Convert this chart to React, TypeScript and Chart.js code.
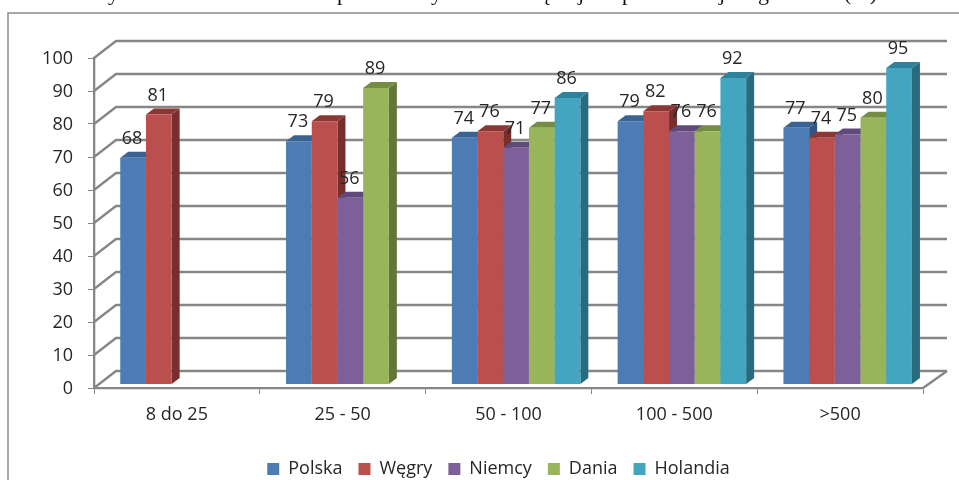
import React, { useEffect, useRef } from "react";
import { Chart, registerables } from "chart.js";

Chart.register(...registerables);

const categories = ["8 do 25", "25 - 50", "50 - 100", "100 - 500", ">500"];
const polska = [68, 73, 74, 79, 77];
const wegry = [81, 79, 76, 82, 74];
const niemcy = [null, 56, 71, 76, 75];
const dania = [null, 89, 77, 76, 80];
const holandia = [null, null, 86, 92, 95];
const seriesNames = ["Polska", "Węgry", "Niemcy", "Dania", "Holandia"];
const seriesValues = [polska, wegry, niemcy, dania, holandia];
const frontColors = ["#4D7BB4", "#BA4F4D", "#7D6099", "#98B55B", "#43A5BF"];
const topColors = ["#3A6391", "#8B3735", "#5F4A7A", "#748C43", "#30829A"];
const sideColors = ["#2F5585", "#772F2E", "#513E69", "#63763A", "#276C7E"];
const titleFragments: [string, number][] = [
  ["y", 108], ["p", 337], ["y", 431], ["ę", 541], ["j", 578], ["p", 622], ["j", 719], ["g", 758], ["(%)", 844],
];

const FONT = '"Open Sans"';
const TEXT = "#262626";
const AXIS = "#868686";
const LINE = 2.3;

const wall = { dx: 22, dy: -17 };
const shift = { dx: 7.6, dy: -4 };
const depth = { dx: 8, dy: -6 };

const scene = {
  id: "scene",
  afterLayout(chart: any) {
    const lg = chart.legend;
    lg.left = 38;
    lg.right = 959;
    lg.top = 444;
    lg.bottom = 480;
  },
  beforeDraw(chart: any) {
    const c = chart.ctx;
    c.save();
    c.fillStyle = "#fff";
    c.fillRect(0, 0, chart.width, chart.height);
    c.strokeStyle = "#8C8C8C";
    c.lineWidth = 1.5;
    c.beginPath();
    c.moveTo(8, 480);
    c.lineTo(8, 13);
    c.lineTo(959, 13);
    c.stroke();
    c.fillStyle = "#111";
    c.font = '22px "Liberation Serif"';
    c.textAlign = "left";
    c.textBaseline = "alphabetic";
    titleFragments.forEach(([t, x]) => c.fillText(t, x, 0));
    c.restore();
  },
  beforeDatasetsDraw(chart: any) {
    const c = chart.ctx;
    const { left, right } = chart.chartArea;
    const y = chart.scales.y;
    c.save();
    c.strokeStyle = AXIS;
    c.lineWidth = LINE;
    y.ticks.forEach((t: any) => {
      const p = y.getPixelForValue(t.value);
      c.beginPath();
      c.moveTo(left, p);
      c.lineTo(left + wall.dx, p + wall.dy);
      c.lineTo(right + wall.dx + 2, p + wall.dy);
      c.stroke();
    });
    const z = y.getPixelForValue(0);
    c.beginPath();
    c.moveTo(right, z);
    c.lineTo(right + wall.dx + 2, z + wall.dy);
    c.stroke();
    c.restore();
  },
  beforeDatasetDraw() {
    return false;
  },
  afterDatasetsDraw(chart: any) {
    const c = chart.ctx;
    c.save();
    c.translate(shift.dx, shift.dy);
    seriesValues.forEach((vals, i) => {
      chart.getDatasetMeta(i).data.forEach((el: any, j: number) => {
        if (vals[j] == null) return;
        const l = el.x - el.width / 2;
        const r = el.x + el.width / 2;
        c.fillStyle = sideColors[i];
        c.beginPath();
        c.moveTo(r, el.y);
        c.lineTo(r + depth.dx, el.y + depth.dy);
        c.lineTo(r + depth.dx, el.base + depth.dy);
        c.lineTo(r, el.base);
        c.closePath();
        c.fill();
        c.fillStyle = topColors[i];
        c.beginPath();
        c.moveTo(l, el.y);
        c.lineTo(l + depth.dx, el.y + depth.dy);
        c.lineTo(r + depth.dx, el.y + depth.dy);
        c.lineTo(r, el.y);
        c.closePath();
        c.fill();
        el.draw(c);
      });
    });
    c.fillStyle = TEXT;
    c.font = `18px ${FONT}`;
    c.textAlign = "center";
    c.textBaseline = "middle";
    seriesValues.forEach((vals, i) => {
      chart.getDatasetMeta(i).data.forEach((el: any, j: number) => {
        if (vals[j] == null) return;
        c.fillText(String(vals[j]), el.x - 1, el.y - 19);
      });
    });
    c.restore();
  },
};

export default function App() {
  const ref = useRef<HTMLCanvasElement>(null);
  useEffect(() => {
    document.body.style.margin = "0";
    const chart = new Chart(ref.current!, {
      type: "bar",
      data: {
        labels: categories,
        datasets: seriesNames.map((n, i) => ({
          label: n,
          data: seriesValues[i],
          yAxisID: "barPlane",
          backgroundColor: frontColors[i],
          borderWidth: 0,
          barPercentage: 1,
          categoryPercentage: 0.775,
        })),
      },
      plugins: [scene],
      options: {
        responsive: false,
        animation: false,
        layout: { padding: { top: 58, right: 36, left: 0, bottom: 0 } },
        plugins: {
          tooltip: { enabled: false },
          legend: {
            position: "bottom",
            labels: {
              boxWidth: 12,
              boxHeight: 12,
              padding: 16,
              color: TEXT,
              font: { family: FONT, size: 18 },
            },
          },
        },
        scales: {
          x: {
            afterFit(s: any) { s.height = 48; },
            grid: { drawOnChartArea: false, drawTicks: true, tickLength: 6, color: AXIS, offset: true },
            border: { display: true, color: AXIS, width: LINE },
            ticks: { color: TEXT, font: { family: FONT, size: 18 }, padding: 10, maxRotation: 0 },
          },
          y: {
            min: 0,
            max: 100,
            afterFit(s: any) { s.width = 94; },
            grid: { drawOnChartArea: false, drawTicks: true, tickLength: 6, color: AXIS },
            border: { display: true, color: AXIS, width: LINE },
            ticks: { stepSize: 10, color: TEXT, font: { family: FONT, size: 18 }, padding: 15, labelOffset: 1 },
          },
          barPlane: { display: false, min: 0, max: 99.2 },
        },
      },
    } as any);
    return () => chart.destroy();
  }, []);
  return <canvas ref={ref} width={959} height={480} style={{ display: "block" }} />;
}
